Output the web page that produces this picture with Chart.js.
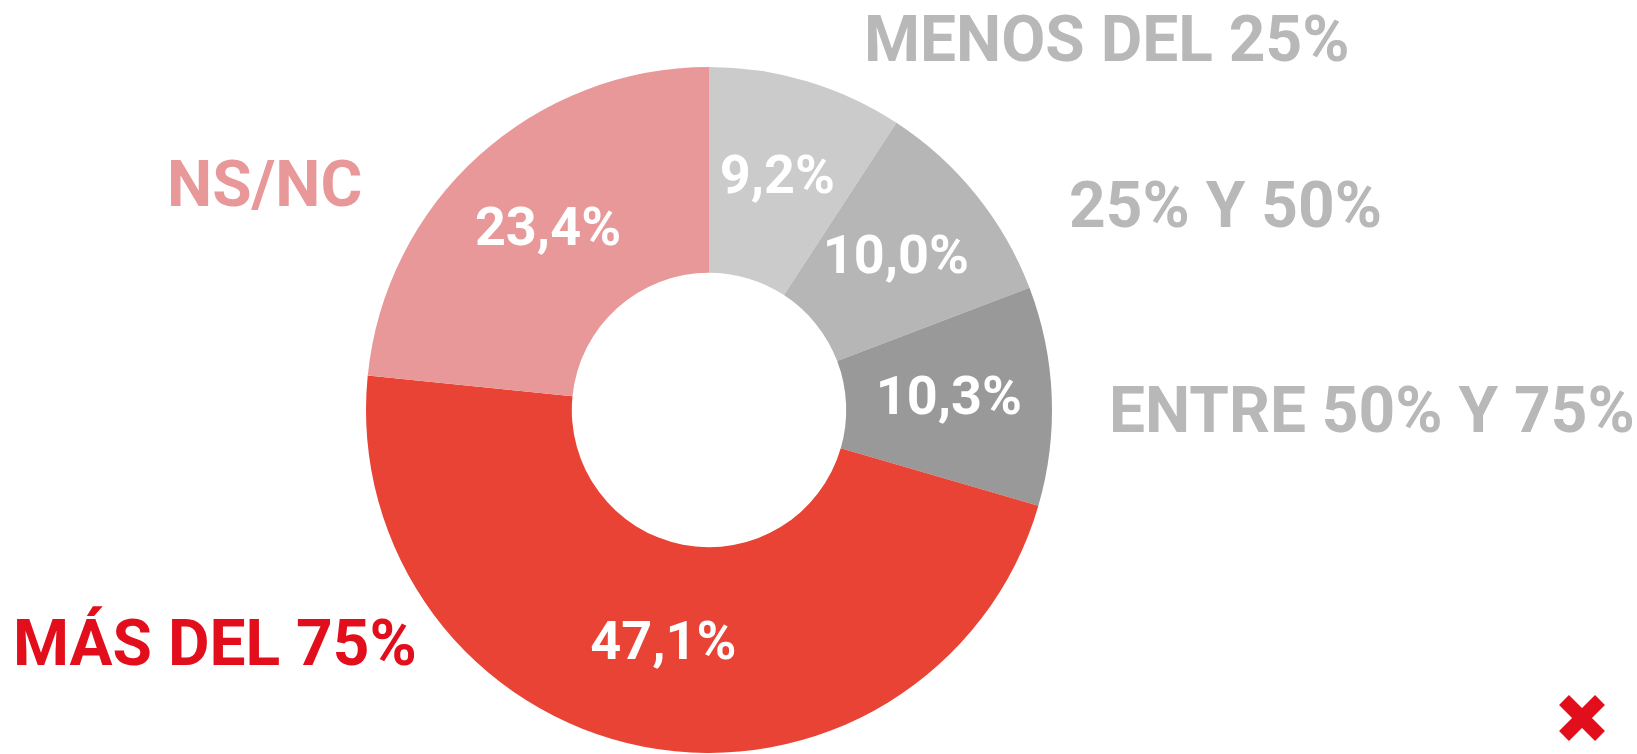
<!DOCTYPE html>
<html>
<head>
<meta charset="utf-8">
<script src="https://cdn.jsdelivr.net/npm/chart.js@4"></script>
<style>
  html, body { margin: 0; padding: 0; background: #fff; }
  #wrap { width: 1637px; height: 754px; position: relative; }
</style>
</head>
<body>
<div id="wrap"><canvas id="donutChart" width="1637" height="754"></canvas></div>
<script>
// datos
const categories = ['MENOS DEL 25%', '25% Y 50%', 'ENTRE 50% Y 75%', 'MÁS DEL 75%', 'NS/NC'];
const values = [9.2, 10.0, 10.3, 47.1, 23.4];
const sliceColors = ['#cbcbcb', '#b6b6b6', '#999999', '#e84335', '#e89898'];
const labelColors = ['#b8b8b8', '#b8b8b8', '#b8b8b8', '#e30e1b', '#e89898'];

// posiciones de las etiquetas exteriores (x izquierda, linea base)
const outerLabelPos = [[864, 61], [1069, 227], [1109, 432], [13, 665], [167, 206]];

const fmt = v => v.toFixed(1).replace('.', ',') + '%';

const labelsPlugin = {
    id: 'sliceLabels',
    afterDatasetsDraw(chart) {
        const ctx = chart.ctx;
        const meta = chart.getDatasetMeta(0);
        ctx.save();
        // valores dentro del anillo
        ctx.fillStyle = '#ffffff';
        ctx.font = 'bold 54px Roboto';
        ctx.textAlign = 'center';
        ctx.textBaseline = 'middle';
        meta.data.forEach((arc, i) => {
            const p = arc.getCenterPoint();
            ctx.fillText(fmt(values[i]), p.x, p.y);
        });
        // nombres de categoria
        ctx.font = 'bold 64px Roboto';
        ctx.textAlign = 'left';
        ctx.textBaseline = 'alphabetic';
        categories.forEach((c, i) => {
            ctx.fillStyle = labelColors[i];
            ctx.fillText(c, outerLabelPos[i][0], outerLabelPos[i][1]);
        });
        // cruz roja
        ctx.strokeStyle = '#e30e1b';
        ctx.lineWidth = 14;
        ctx.lineCap = 'butt';
        const cx = 1582, cy = 718, s = 18;
        ctx.beginPath();
        ctx.moveTo(cx - s, cy - s); ctx.lineTo(cx + s, cy + s);
        ctx.moveTo(cx + s, cy - s); ctx.lineTo(cx - s, cy + s);
        ctx.stroke();
        ctx.restore();
    }
};

new Chart(document.getElementById('donutChart'), {
    type: 'doughnut',
    data: {
        labels: categories,
        datasets: [{
            data: values,
            backgroundColor: sliceColors,
            borderWidth: 0
        }]
    },
    options: {
        responsive: false,
        animation: false,
        cutout: '40%',
        layout: { padding: { left: 366, right: 585, top: 67, bottom: 1 } },
        plugins: {
            legend: { display: false },
            tooltip: { enabled: false }
        }
    },
    plugins: [labelsPlugin]
});
</script>
</body>
</html>
